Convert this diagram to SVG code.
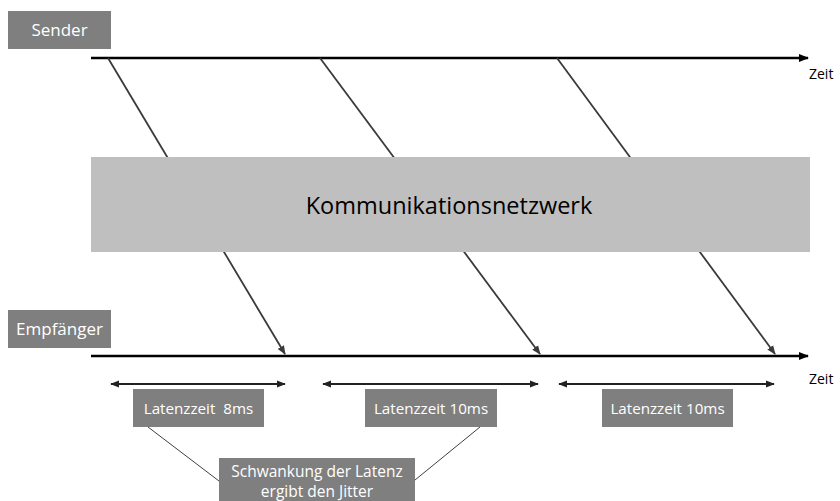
<svg xmlns="http://www.w3.org/2000/svg" width="840" height="501" viewBox="0 0 840 501">
<defs>
<style>
.box{fill:#7f7f7f}
.lbl{font-family:"Open Sans","Noto Sans","Liberation Sans",sans-serif;fill:#ffffff;font-size:15.2px;text-anchor:middle}
.big{font-size:17px}
.jt{font-size:15.5px}
.axis{stroke:#000;stroke-width:2.5;fill:none}
.diag{stroke:#3a3a3a;stroke-width:1.8;fill:none}
.dbl{stroke:#222;stroke-width:2;fill:none}
.thin{stroke:#404040;stroke-width:1;fill:none}
.zeit{font-family:"Open Sans","Noto Sans","Liberation Sans",sans-serif;font-size:14px;fill:#000}
</style>
<marker id="ah" viewBox="0 0 10 10" refX="9" refY="5" markerWidth="4" markerHeight="4" orient="auto-start-reverse" markerUnits="strokeWidth">
<path d="M0,1 L10,5 L0,9 z" fill="#000"/>
</marker>
<marker id="ah2" viewBox="0 0 10 10" refX="9" refY="5" markerWidth="5" markerHeight="5" orient="auto-start-reverse" markerUnits="strokeWidth">
<path d="M0,1 L10,5 L0,9 z" fill="#3a3a3a"/>
</marker>
<marker id="ah3" viewBox="0 0 10 10" refX="9" refY="5" markerWidth="4.5" markerHeight="4.5" orient="auto-start-reverse" markerUnits="strokeWidth">
<path d="M0,1 L10,5 L0,9 z" fill="#222"/>
</marker>
</defs>
<rect width="840" height="501" fill="#fff"/>

<g id="connectors">
<line class="axis" x1="91" y1="58" x2="808" y2="58" marker-end="url(#ah)"/>
<line class="axis" x1="91" y1="356" x2="808" y2="356" marker-end="url(#ah)"/>
<line class="diag" x1="108" y1="58" x2="285" y2="354" marker-end="url(#ah2)"/>
<line class="diag" x1="320" y1="58" x2="540" y2="354" marker-end="url(#ah2)"/>
<line class="diag" x1="557" y1="58" x2="775" y2="354" marker-end="url(#ah2)"/>
<line class="dbl" x1="111" y1="384" x2="285" y2="384" marker-start="url(#ah3)" marker-end="url(#ah3)"/>
<line class="dbl" x1="323" y1="384" x2="538" y2="384" marker-start="url(#ah3)" marker-end="url(#ah3)"/>
<line class="dbl" x1="559" y1="384" x2="774" y2="384" marker-start="url(#ah3)" marker-end="url(#ah3)"/>
<line class="thin" x1="148" y1="427" x2="219" y2="481"/>
<line class="thin" x1="480" y1="427" x2="415" y2="480"/>
</g>

<g id="network">
<rect x="91" y="157" width="719" height="95" fill="#bfbfbf"/>
<text x="449" y="214" font-family="Open Sans,Noto Sans,Liberation Sans,sans-serif" font-size="23.5" fill="#000" text-anchor="middle">Kommunikationsnetzwerk</text>
</g>

<g id="sender">
<rect class="box" x="8" y="11" width="103" height="38"/>
<text class="lbl big" x="59.5" y="36">Sender</text>
</g>

<g id="empfaenger">
<rect class="box" x="8" y="310" width="103" height="38"/>
<text class="lbl big" x="59.5" y="335">Empfänger</text>
</g>

<g id="zeit1"><text class="zeit" x="809" y="79">Zeit</text></g>
<g id="zeit2"><text class="zeit" x="809" y="384">Zeit</text></g>

<g id="lat1">
<rect class="box" x="133" y="389" width="131" height="38"/>
<text class="lbl" x="198.5" y="414" xml:space="preserve">Latenzzeit  8ms</text>
</g>
<g id="lat2">
<rect class="box" x="365" y="389" width="132" height="38"/>
<text class="lbl" x="431" y="414">Latenzzeit 10ms</text>
</g>
<g id="lat3">
<rect class="box" x="602" y="389" width="131" height="38"/>
<text class="lbl" x="667.5" y="414">Latenzzeit 10ms</text>
</g>

<g id="jitter">
<rect class="box" x="219" y="458" width="196" height="43"/>
<text class="lbl jt" x="317" y="477">Schwankung der Latenz</text>
<text class="lbl jt" x="317" y="497">ergibt den Jitter</text>
</g>
</svg>
